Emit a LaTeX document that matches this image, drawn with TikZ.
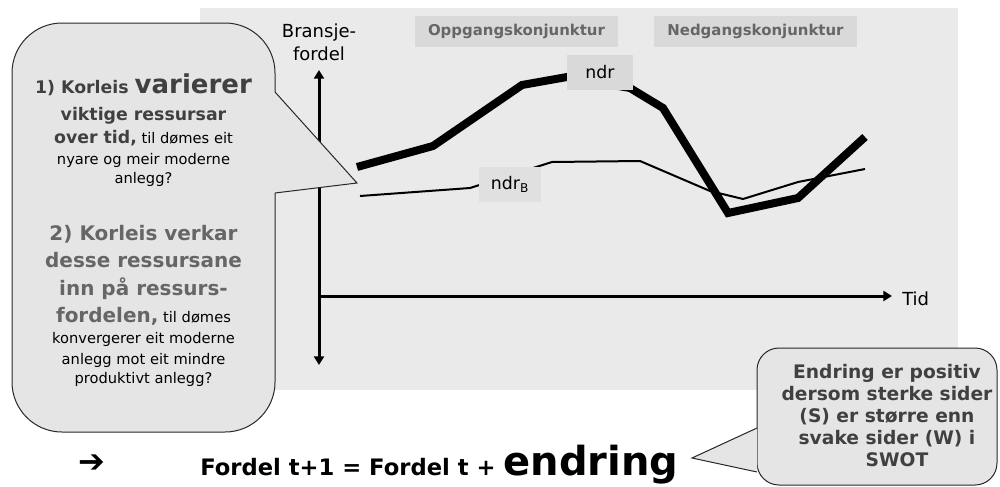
\documentclass[tikz,border=0pt]{standalone}
\usepackage{fontspec}
\setmainfont{DejaVu Sans}
\usetikzlibrary{arrows.meta}

\definecolor{panelgray}{RGB}{234,234,234}
\definecolor{callfill}{RGB}{229,229,229}
\definecolor{tagfill}{RGB}{217,217,217}
\definecolor{ndrbfill}{RGB}{224,224,224}
\definecolor{darktext}{RGB}{64,64,64}
\definecolor{midtext}{RGB}{102,102,102}
\definecolor{edgecol}{RGB}{40,40,40}

\newcommand\pxfont[1]{\fontsize{#1}{#1}\selectfont}

\tikzset{
  axistip/.tip={Triangle[width=7.5pt,length=6.5pt]},
  axisline/.style={line width=2.25pt, black},
  thickcurve/.style={line width=6pt, line join=miter, black},
  thincurve/.style={line width=1.5pt, line join=round, black},
  tag/.style={fill=tagfill, inner sep=0pt, text=black, font=\pxfont{13}},
  phase/.style={fill=tagfill, inner sep=0pt, text=midtext, font=\bfseries\pxfont{11.2},
                minimum width=152.25pt, minimum height=23.25pt},
  calloutshape/.style={fill=callfill, draw=edgecol, line width=0.75pt},
  txt/.style={anchor=base, inner sep=0pt},
  axislabel/.style={anchor=base, inner sep=0pt, font=\pxfont{13.5}},
}

\begin{document}
\begin{tikzpicture}[x=0.75pt,y=-0.75pt]
\useasboundingbox (0,0) rectangle (1000,486);

% chart panel
\fill[panelgray] (200,8) rectangle (958,390);

% axes
\coordinate (ybot) at (319,365);
\coordinate (ytop) at (319,70);
\coordinate (orig) at (319,296);
\coordinate (xend) at (892,296);
\draw[axisline, axistip-axistip] (ybot) -- (ytop);
\draw[axisline, -axistip] (orig) -- (xend);

\node[axislabel] (ylab1) at (319,37) {Bransje-};
\node[axislabel] (ylab2) at (319,60) {fordel};
\node[axislabel, anchor=base west] (xlab) at (902,305) {Tid};

% phase labels
\node[phase] (up) at (516.5,31.5) {Oppgangskonjunktur};
\node[phase] (down) at (755.5,31.5) {Nedgangskonjunktur};

% industry curve (thin) and firm curve (thick)
\draw[thincurve] (360,196) -- (470,188) -- (552,162) -- (640,161) -- (710,191)
  -- (743,199) -- (798,182) -- (865,169);
\draw[thickcurve] (357,167) -- (433,146) -- (522,85) -- (567,77) -- (630,88)
  -- (663,108) -- (728,213) -- (798,198) -- (865,137);

\node[tag, minimum width=49.5pt, minimum height=26.25pt] (ndr) at (600,72.5) {ndr};
\node[tag, fill=ndrbfill, minimum width=46.5pt, minimum height=26.25pt] (ndrb) at (510,184.5)
  {ndr\textsubscript{B}};

% left speech bubble
\draw[calloutshape, rounded corners=37.5pt] (12,23) rectangle (275,432);
\fill[callfill] (273,92) -- (275,92) -- (357,183) -- (275,193) -- (273,193) -- cycle;
\draw[edgecol, line width=0.75pt, line join=miter] (275,92) -- (357,183) -- (275,193);

\node[txt, text=darktext] (q1a) at (143.5,93)
  {\bfseries\pxfont{13}1) Korleis \pxfont{19.5}varierer};
\node[txt, text=darktext] (q1b) at (143.5,120) {\bfseries\pxfont{13}viktige ressursar};
\node[txt] (q1c) at (143.5,143)
  {\textcolor{darktext}{\bfseries\pxfont{13}over tid,}\pxfont{11} til dømes eit};
\node[txt] (q1d) at (143.5,164) {\pxfont{11}nyare og meir moderne};
\node[txt] (q1e) at (143.5,183) {\pxfont{11}anlegg?};

\node[txt, text=midtext] (q2a) at (143.5,240) {\bfseries\pxfont{15}2) Korleis verkar};
\node[txt, text=midtext] (q2b) at (143.5,267) {\bfseries\pxfont{15}desse ressursane};
\node[txt, text=midtext] (q2c) at (143.5,295) {\bfseries\pxfont{15}inn på ressurs-};
\node[txt] (q2d) at (143.5,322)
  {\textcolor{midtext}{\bfseries\pxfont{15}fordelen,}\pxfont{11} til dømes};
\node[txt] (q2e) at (143.5,343) {\pxfont{11}konvergerer eit moderne};
\node[txt] (q2f) at (143.5,364) {\pxfont{11}anlegg mot eit mindre};
\node[txt] (q2g) at (143.5,383) {\pxfont{11}produktivt anlegg?};

% formula
\node[txt] (arrow) at (92,472) {\pxfont{24}➔};
\node[txt, anchor=base west] (formula) at (200,475)
  {\bfseries\pxfont{17}Fordel t+1 = Fordel t + \pxfont{30}endring};

% right speech bubble
\draw[calloutshape, rounded corners=16.5pt] (757,348) rectangle (997,485);
\fill[callfill] (755,428) -- (757,428) -- (757,472) -- (755,472) -- cycle;
\fill[callfill] (757,428) -- (692,458) -- (757,472) -- cycle;
\draw[edgecol, line width=0.75pt, line join=miter] (757,428) -- (692,458) -- (757,472);

\node[txt, text=darktext] (s1) at (887,378) {\bfseries\pxfont{14}Endring er positiv};
\node[txt, text=darktext] (s2) at (887,400) {\bfseries\pxfont{14}dersom sterke sider};
\node[txt, text=darktext] (s3) at (887,422) {\bfseries\pxfont{14}(S) er større enn};
\node[txt, text=darktext] (s4) at (887,444) {\bfseries\pxfont{14}svake sider (W) i};
\node[txt, text=darktext] (s5) at (897,466) {\bfseries\pxfont{14}SWOT};
\end{tikzpicture}
\end{document}
